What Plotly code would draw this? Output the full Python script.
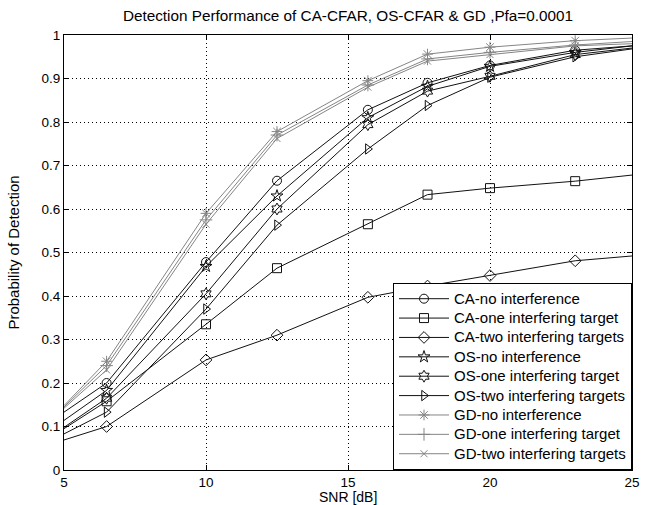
import plotly.graph_objects as go

snr = [5, 6.5, 10, 12.5, 15.7, 17.8, 20, 23, 25]

ca_no = [0.133, 0.200, 0.478, 0.665, 0.828, 0.890, 0.930, 0.965, 0.975]
ca_one = [0.095, 0.158, 0.335, 0.464, 0.565, 0.633, 0.648, 0.664, 0.678]
ca_two = [0.069, 0.100, 0.253, 0.310, 0.397, 0.423, 0.447, 0.481, 0.492]
os_no = [0.114, 0.183, 0.468, 0.630, 0.810, 0.882, 0.928, 0.960, 0.975]
os_one = [0.098, 0.165, 0.405, 0.600, 0.794, 0.871, 0.905, 0.955, 0.970]
os_two = [0.083, 0.133, 0.370, 0.563, 0.738, 0.838, 0.903, 0.950, 0.968]
gd_no = [0.148, 0.250, 0.590, 0.778, 0.895, 0.956, 0.972, 0.987, 0.993]
gd_one = [0.145, 0.240, 0.575, 0.770, 0.885, 0.945, 0.960, 0.977, 0.985]
gd_two = [0.142, 0.230, 0.565, 0.762, 0.880, 0.940, 0.955, 0.975, 0.980]

names = [
    "CA-no interference", "CA-one interfering target", "CA-two interfering targets",
    "OS-no interference", "OS-one interfering target", "OS-two interfering targets",
    "GD-no interference", "GD-one interfering target", "GD-two interfering targets",
]
series = [ca_no, ca_one, ca_two, os_no, os_one, os_two, gd_no, gd_one, gd_two]
symbols = ["circle-open", "square-open", "diamond-open",
           "star-open", "hexagram-open", "triangle-right-open",
           "asterisk-open", "cross-thin-open", "x-thin-open"]
sizes = [9, 9, 9, 9, 9, 9, 9, 9, 7]
dark = "#111111"
gray = "#858585"
colors = [dark] * 6 + [gray] * 3

fig = go.Figure()
for name, ys, sym, sz, col in zip(names, series, symbols, sizes, colors):
    # edge segments (no markers at the axis limits)
    ex = [snr[0], snr[1], None, snr[-2], snr[-1]]
    ey = [ys[0], ys[1], None, ys[-2], ys[-1]]
    fig.add_trace(go.Scatter(x=ex, y=ey, mode="lines", showlegend=False,
                             line=dict(color=col, width=1), hoverinfo="skip"))
    fig.add_trace(go.Scatter(x=snr[1:-1], y=ys[1:-1], mode="lines+markers",
                             name='<span style="font-size:15px">' + name + "</span>",
                             line=dict(color=col, width=1),
                             marker=dict(symbol=sym, size=sz, color=col,
                                         line=dict(color=col, width=1))))

axis_common = dict(
    showline=True, linecolor="black", linewidth=1, mirror="ticks",
    ticks="inside", ticklen=5, tickcolor="black", tickwidth=1,
    showgrid=True, gridcolor="black", gridwidth=1, griddash="1px,3px",
    zeroline=False, tickfont=dict(size=13.5, color="black"), automargin=False,
)

fig.update_layout(
    width=649, height=505,
    margin=dict(l=64, r=17, t=35, b=35),
    paper_bgcolor="white", plot_bgcolor="white",
    font=dict(family="Liberation Sans, Arial, sans-serif", size=15, color="black"),
    title=dict(text="Detection Performance of CA-CFAR, OS-CFAR & GD ,Pfa=0.0001",
               x=(64 + 632) / 2 / 649, xanchor="center", y=1 - 16 / 505, yanchor="middle",
               font=dict(size=15.3, color="black")),
    xaxis=dict(range=[5, 25], tickvals=[5, 10, 15, 20, 25], **axis_common),
    yaxis=dict(range=[0, 1], dtick=0.1,
               title=dict(text="Probability of Detection", standoff=18, font=dict(size=15)),
               **axis_common),
    legend=dict(x=1, y=0, xanchor="right", yanchor="bottom",
                bgcolor="white", bordercolor="black", borderwidth=1,
                font=dict(size=12.6, color="black"), itemwidth=50,
                tracegroupgap=0),
    showlegend=True,
    annotations=[dict(text="SNR [dB]", xref="paper", yref="paper", x=0.5, y=-26.5 / 435,
                      xanchor="center", yanchor="middle", showarrow=False,
                      font=dict(size=14, color="black"))],
)

fig.write_html("out.html")
